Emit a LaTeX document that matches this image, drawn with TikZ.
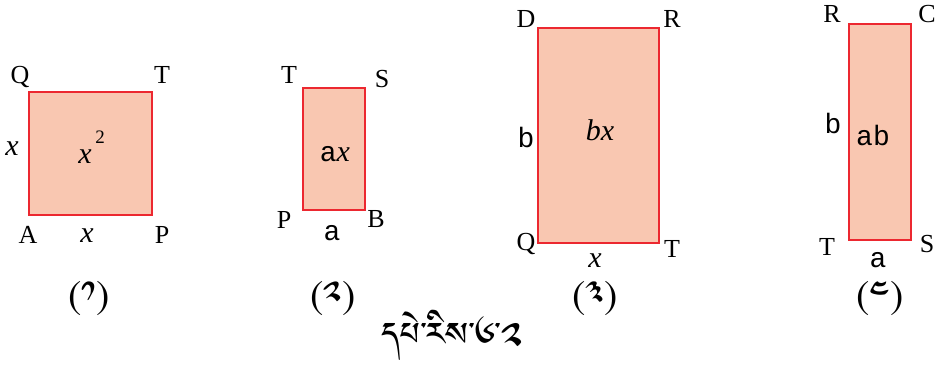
\documentclass[tikz,border=0pt]{standalone}
\usepackage{fontspec}
\setmainfont{Liberation Serif}
\newfontfamily\monof{Liberation Mono}
\newfontfamily\tibfont[Script=Tibetan]{Jomolhari}
\definecolor{boxfill}{RGB}{249,199,177}
\definecolor{boxline}{RGB}{236,40,48}
\tikzset{
  figbox/.style={draw=boxline, fill=boxfill, line width=1.2pt},
  caplbl/.style={anchor=base, inner sep=0pt, font=\fontsize{26}{30}\selectfont},
  itallbl/.style={anchor=base, inner sep=0pt, font=\fontsize{30}{34}\selectfont\itshape},
  monolbl/.style={anchor=base, inner sep=0pt, font=\fontsize{28}{32}\selectfont\monof},
  suplbl/.style={anchor=base, inner sep=0pt, font=\fontsize{19}{22}\selectfont},
  tiblbl/.style={inner sep=0pt, font=\fontsize{36}{40}\selectfont\tibfont},
  tibcap/.style={anchor=base, inner sep=0pt, font=\fontsize{42}{46}\selectfont\tibfont}
}
\begin{document}
\begin{tikzpicture}[x=1pt,y=-1pt]
\useasboundingbox (0,0) rectangle (939,369);
% figure 1
\draw[figbox] (29,92) rectangle (152,215);
\node[caplbl] (q1) at (20,83) {Q};
\node[caplbl] (t1) at (162,83) {T};
\node[itallbl] (xl1) at (12,155) {x};
\node[itallbl] (xc1) at (85,163) {x};
\node[suplbl] (s1) at (100,143) {2};
\node[caplbl] (a1) at (28,243) {A};
\node[itallbl] (xb1) at (87,242) {x};
\node[caplbl] (p1) at (162,243) {P};
% figure 2
\draw[figbox] (303,88) rectangle (365,210);
\node[caplbl] (t2) at (289,83) {T};
\node[caplbl] (s2) at (382,87) {S};
\node[anchor=base, inner sep=0pt] (ax2) at (335,161) {{\fontsize{28}{32}\selectfont\monof a}{\fontsize{30}{34}\selectfont\itshape x}};
\node[caplbl] (p2) at (284,228) {P};
\node[caplbl] (b2) at (376,227) {B};
\node[monolbl] (a2) at (332,240) {a};
% figure 3
\draw[figbox] (538,28) rectangle (659,243);
\node[caplbl] (d3) at (526,28) {D};
\node[caplbl] (r3) at (672,28) {R};
\node[monolbl] (b3) at (526,147) {b};
\node[itallbl] (bx3) at (600,140) {bx};
\node[caplbl] (q3) at (526,250) {Q};
\node[caplbl] (t3) at (672,257) {T};
\node[itallbl] (x3) at (595,267) {x};
% figure 4
\draw[figbox] (849,24) rectangle (911,240);
\node[caplbl] (r4) at (832,23) {R};
\node[caplbl] (c4) at (927,23) {C};
\node[monolbl] (b4) at (833,133) {b};
\node[monolbl] (ab4) at (873,145) {ab};
\node[caplbl] (t4) at (827,255) {T};
\node[caplbl] (s4) at (927,252) {S};
\node[monolbl] (a4) at (878,267) {a};
% captions
\node[tiblbl] (l1) at (89,298) {(༡)};
\node[tiblbl] (l2) at (333,298) {(༢)};
\node[tiblbl] (l3) at (595,298) {(༣)};
\node[tiblbl] (l4) at (880,298) {(༤)};
\node[tibcap] (cap0) at (452,354) {དཔེ་རིས་༦་༢};
\end{tikzpicture}
\end{document}
